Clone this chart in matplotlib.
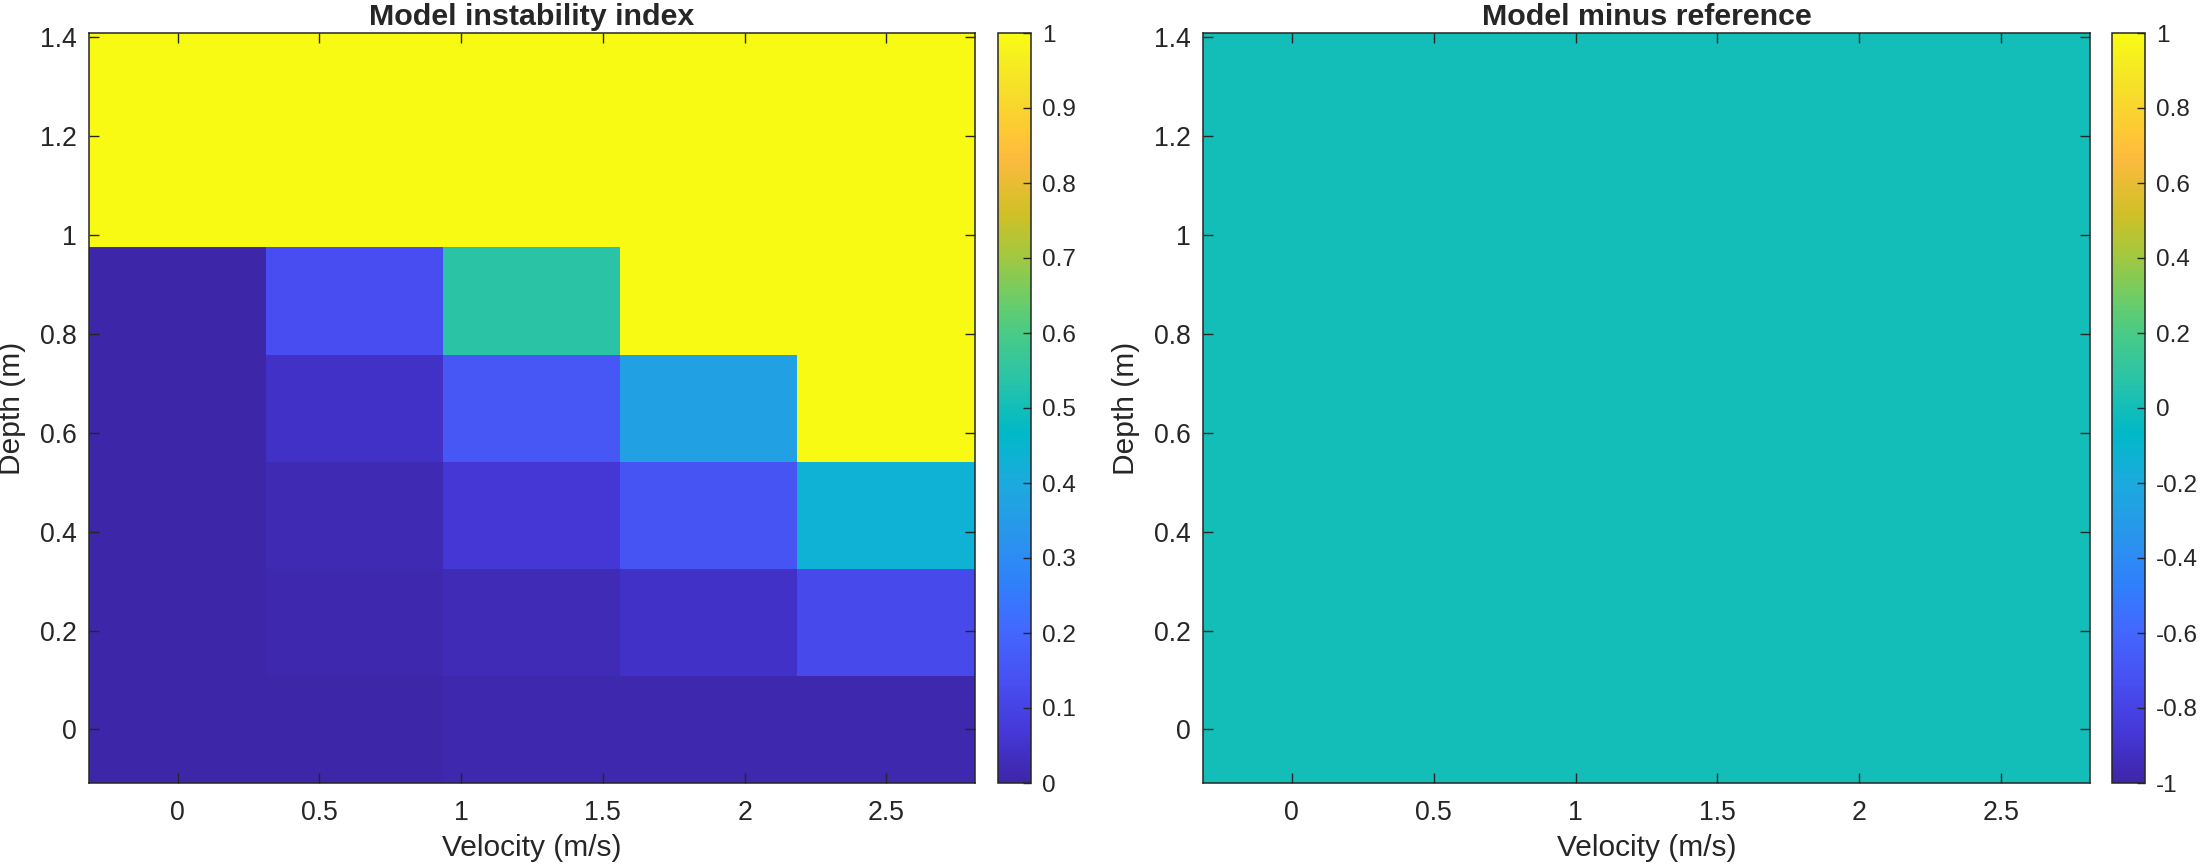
import numpy as np
import matplotlib
matplotlib.use("Agg")
import matplotlib.pyplot as plt
from matplotlib.colors import LinearSegmentedColormap
from matplotlib.ticker import FuncFormatter

# grid (cell centres)
velocity = [0, 0.625, 1.25, 1.875, 2.5]
depth = [0, 0.2167, 0.4333, 0.65, 0.8667, 1.0833, 1.3]

# instability index, rows = depth (bottom to top), cols = velocity
instab_d0 = [0.0, 0.0, 0.01, 0.01, 0.01]
instab_d1 = [0.0, 0.008, 0.02, 0.045, 0.12]
instab_d2 = [0.0, 0.016, 0.067, 0.15, 0.43]
instab_d3 = [0.0, 0.043, 0.157, 0.37, 1.0]
instab_d4 = [0.0, 0.13, 0.54, 1.0, 1.0]
instab_d5 = [1.0, 1.0, 1.0, 1.0, 1.0]
instab_d6 = [1.0, 1.0, 1.0, 1.0, 1.0]

# model minus reference: zero everywhere
diff_value = 0.0

# parula-like colormap anchors
parula = LinearSegmentedColormap.from_list("parula", [
    (0.0, (0.2422, 0.1504, 0.6603)),
    (0.0627, (0.2704, 0.2138, 0.8346)),
    (0.1294, (0.2814, 0.3040, 0.9441)),
    (0.2, (0.2647, 0.4030, 0.9935)),
    (0.2314, (0.2311, 0.4497, 0.9995)),
    (0.2627, (0.1869, 0.4975, 0.9844)),
    (0.3020, (0.1764, 0.5504, 0.9516)),
    (0.349, (0.1461, 0.6089, 0.9080)),
    (0.4, (0.1085, 0.6669, 0.8734)),
    (0.4353, (0.0535, 0.7006, 0.8299)),
    (0.4667, (0.0009, 0.7248, 0.7815)),
    (0.502, (0.0770, 0.7468, 0.7224)),
    (0.5451, (0.1799, 0.7699, 0.6454)),
    (0.6, (0.2809, 0.7964, 0.5266)),
    (0.6431, (0.4184, 0.8030, 0.4122)),
    (0.702, (0.6297, 0.7859, 0.2521)),
    (0.7608, (0.8172, 0.7505, 0.1535)),
    (0.8314, (0.9842, 0.7330, 0.2446)),
    (0.851, (0.9972, 0.7569, 0.2267)),
    (0.898, (0.9835, 0.8280, 0.1817)),
    (0.949, (0.9595, 0.9084, 0.1450)),
    (1.0, (0.9769, 0.9839, 0.0805)),
], N=256)

plt.rcParams['font.family'] = ['Liberation Sans', 'DejaVu Sans']
plt.rcParams['axes.unicode_minus'] = False

ink = (0.15, 0.15, 0.15)
fmt = FuncFormatter(lambda v, p: "%g" % (round(v, 6) + 0.0))

instab = np.array([instab_d0, instab_d1, instab_d2, instab_d3,
                   instab_d4, instab_d5, instab_d6])
diff = np.full(instab.shape, diff_value)

x = np.array(velocity)
y = np.array(depth)
dx = x[1] - x[0]
dy = y[1] - y[0]
extent = [x[0] - dx / 2, x[-1] + dx / 2, y[0] - dy / 2, y[-1] + dy / 2]

fig = plt.figure(figsize=(22.01, 8.66), dpi=100)
W, H = 2201, 866

def px_axes(l, t, r, b):
    return fig.add_axes([l / W, 1 - b / H, (r - l) / W, (b - t) / H])

panels = [
    (instab, 0, 1, np.round(np.arange(0, 1.01, 0.1), 6), "Model instability index",
     (89, 33, 975, 783), (998, 33, 1031, 783)),
    (diff, -1, 1, np.round(np.arange(-1, 1.01, 0.2), 6), "Model minus reference",
     (1203, 33, 2090, 783), (2112, 33, 2145, 783)),
]

for data, vmin, vmax, cticks, title, abox, cbox in panels:
    ax = px_axes(*abox)
    im = ax.imshow(data, origin='lower', extent=extent, aspect='auto',
                   cmap=parula, vmin=vmin, vmax=vmax, interpolation='nearest')
    ax.set_xticks([0, 0.5, 1, 1.5, 2, 2.5])
    ax.set_yticks(np.arange(0, 1.41, 0.2))
    ax.xaxis.set_major_formatter(fmt)
    ax.yaxis.set_major_formatter(fmt)
    ax.tick_params(direction='in', top=True, right=True, length=7, width=1,
                   labelsize=19.2, colors=ink, pad=9)
    ax.tick_params(axis='x', pad=12)
    for s in ax.spines.values():
        s.set_color(ink)
        s.set_linewidth(1.1)
    ax.set_xlabel("Velocity (m/s)", fontsize=21.5, color=ink, labelpad=6)
    ax.set_ylabel("Depth (m)", fontsize=21.5, color=ink, labelpad=10)
    ax.set_title(title, fontsize=21.9, fontweight='bold', color=ink, pad=6)

    cax = px_axes(*cbox)
    cb = fig.colorbar(im, cax=cax, ticks=cticks)
    cb.ax.yaxis.set_major_formatter(fmt)
    cb.ax.tick_params(direction='in', length=6, width=1, labelsize=17.5,
                      colors=ink, pad=8)
    cb.outline.set_edgecolor(ink)
    cb.outline.set_linewidth(1.1)

fig.savefig("out.png", dpi=100)
